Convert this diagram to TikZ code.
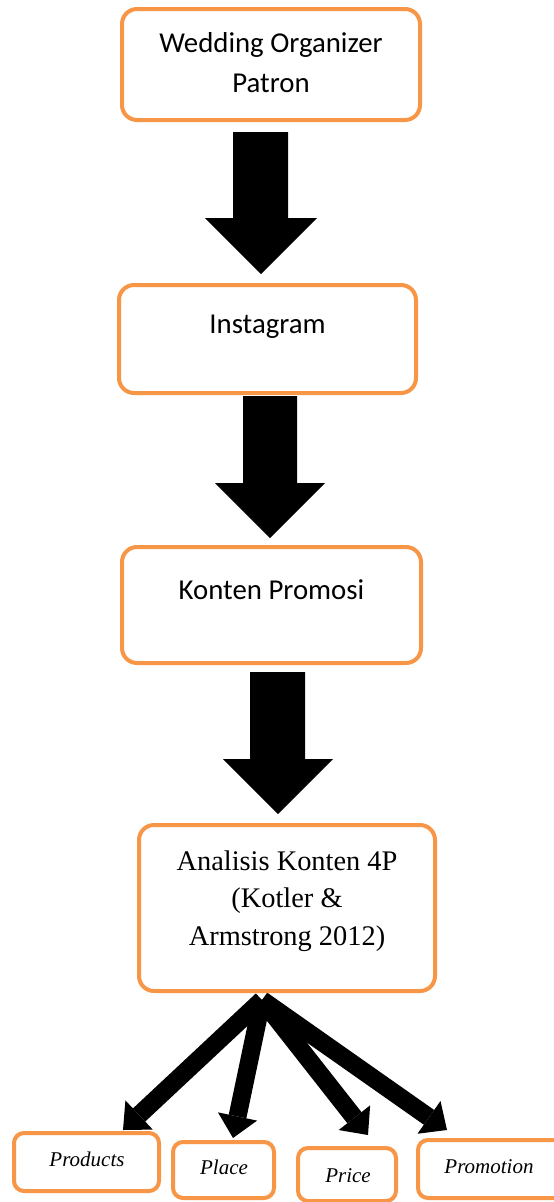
\documentclass[tikz,border=0pt]{standalone}
\usepackage{fontspec}
\setmainfont{Liberation Serif}
\newfontfamily\calfont{Carlito}
\usetikzlibrary{arrows.meta,backgrounds}
\definecolor{org}{HTML}{F79646}
\begin{document}
\begin{tikzpicture}[x=1pt,y=-1pt,
  box/.style={draw=org, line width=4pt, rounded corners=15pt, fill=white, inner sep=0pt},
  sbox/.style={draw=org, line width=4pt, rounded corners=10pt, fill=white, inner sep=0pt},
  sanslbl/.style={inner sep=0pt, align=center, font=\calfont\fontsize{28.8}{40}\selectfont},
  seriflbl/.style={inner sep=0pt, align=center, font=\fontsize{28.4}{37.5}\selectfont},
  itlbl/.style={inner sep=0pt, font=\itshape\fontsize{21}{24}\selectfont},
  fanarrow/.style={line width=18pt, -{Triangle[length=22pt,width=40pt,line width=0pt]}},
  blockarrow/.style={fill=black}]
\useasboundingbox (0,0) rectangle (554,1202);

% main boxes
\node[box, minimum width=298pt, minimum height=111pt] (b1) at (271,64.5) {};
\node[sanslbl, anchor=base] (t1a) at (271,52) {Wedding Organizer};
\node[sanslbl, anchor=base] (t1b) at (271,92) {Patron};

\node[box, minimum width=297pt, minimum height=108pt] (b2) at (267.5,339) {};
\node[sanslbl, anchor=base] (t2) at (267.5,333) {Instagram};

\node[box, minimum width=299pt, minimum height=116pt] (b3) at (271.5,605) {};
\node[sanslbl, anchor=base] (t3) at (271.5,599) {Konten Promosi};

\node[box, minimum width=296pt, minimum height=166pt] (b4) at (287,908) {};
\node[seriflbl, anchor=base] (t4a) at (287,870) {Analisis Konten 4P};
\node[seriflbl, anchor=base] (t4b) at (287,907.5) {(Kotler \&};
\node[seriflbl, anchor=base] (t4c) at (287,945) {Armstrong 2012)};

% bottom boxes
\node[sbox, minimum width=145pt, minimum height=58pt] (p1) at (86.5,1162) {};
\node[itlbl, anchor=base] (q1) at (87,1166) {Products};
\node[sbox, minimum width=101pt, minimum height=56pt] (p2) at (223.5,1170) {};
\node[itlbl, anchor=base] (q2) at (224,1174) {Place};
\node[sbox, minimum width=98pt, minimum height=53pt] (p3) at (347,1174.5) {};
\node[itlbl, anchor=base] (q3) at (348,1182) {Price};
\node[sbox, minimum width=152pt, minimum height=58pt] (p4) at (494,1169) {};
\node[itlbl, anchor=base] (q4) at (489,1173) {Promotion};

% block arrows
\fill[blockarrow] (233,132) -- (288,132) -- (288,218) -- (317,218) -- (261,274) -- (205,218) -- (233,218) -- cycle;
\fill[blockarrow] (243,396) -- (297,396) -- (297,483) -- (325,483) -- (270,538) -- (215,483) -- (243,483) -- cycle;
\fill[blockarrow] (250,672) -- (305,672) -- (305,759) -- (333,759) -- (278,814) -- (223,759) -- (250,759) -- cycle;

% fan arrows
\coordinate (fan) at (262,1000);
\coordinate (e1) at (123,1130);
\coordinate (e2) at (233,1138);
\coordinate (e3) at (368,1135);
\coordinate (e4) at (447,1130);
\begin{pgfonlayer}{background}
\draw[fanarrow] (fan) -- (e1);
\draw[fanarrow] (fan) -- (e2);
\draw[fanarrow] (fan) -- (e3);
\draw[fanarrow] (fan) -- (e4);
\end{pgfonlayer}
\end{tikzpicture}
\end{document}
